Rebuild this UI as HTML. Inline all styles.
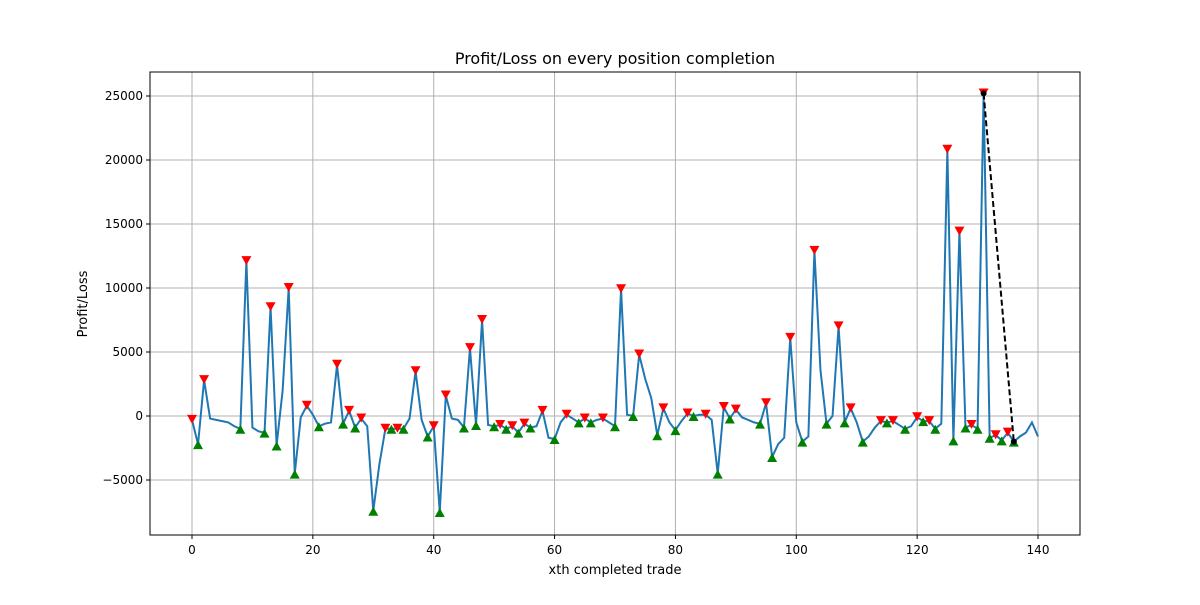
<!DOCTYPE html>
<html><head><meta charset="utf-8"><style>
body{margin:0;background:#fff;font-family:"Liberation Sans","DejaVu Sans",sans-serif}
svg text{font-family:"DejaVu Sans","Liberation Sans",sans-serif;fill:#000}
</style></head><body>
<svg id="chart" width="1200" height="600"></svg>
<script>
const values=[-300,-2200,2800,-200,-300,-400,-500,-800,-1000,12100,-900,-1200,-1300,8500,-2300,2000,10000,-4500,-100,800,
100,-800,-600,-500,4000,-600,400,-900,-200,-800,-7400,-3800,-1000,-1000,-1000,-1000,-200,3500,-300,-1600,
-800,-7500,1600,-200,-300,-900,5300,-700,7500,-700,-800,-700,-1000,-800,-1300,-600,-900,-800,400,-1700,
-1800,-500,100,-200,-500,-200,-500,-300,-200,-500,-800,9900,100,0,4800,2900,1400,-1500,600,-500,
-1100,-400,200,0,100,100,-300,-4500,700,-200,500,-100,-300,-500,-600,1000,-3200,-2200,-1700,6100,
-500,-2000,-1600,12900,3600,-600,0,7000,-500,600,-500,-2000,-1600,-900,-400,-500,-400,-700,-1000,-800,
-100,-400,-400,-1000,-600,20800,-1900,14400,-900,-700,-1000,25200,-1700,-1500,-1900,-1300,-2000,-1600,-1300,-500,-1600];
const sellIdx=[0,2,9,13,16,19,24,26,28,32,34,37,40,42,46,48,51,53,55,58,62,65,68,71,74,78,82,85,88,90,95,99,103,107,109,114,116,120,122,125,127,129,131,133,135];
const buyIdx=[1,8,12,14,17,21,25,27,30,33,35,39,41,45,47,50,52,54,56,60,64,66,70,73,77,80,83,87,89,94,96,101,105,108,111,115,118,121,123,126,128,130,132,134,136];
const drawdown=[131,136];
const xTicks=[0,20,40,60,80,100,120,140];
const yTicks=[-5000,0,5000,10000,15000,20000,25000];
const L=150,R=1080,T=72,B=535;
const X=v=>192+v*(1038-192)/140;
const Y=v=>416-v*12.8/1000;
const svg=document.getElementById('chart');
const NS='http://www.w3.org/2000/svg';
function mk(t,a,p){const e=document.createElementNS(NS,t);for(const k in a)e.setAttribute(k,a[k]);(p||svg).appendChild(e);return e;}
let e;
xTicks.forEach(t=>{
 e=mk('line',{x1:X(t),x2:X(t),y1:T,y2:B,stroke:'#b0b0b0','stroke-width':1});
 
 
 mk('line',{x1:X(t),x2:X(t),y1:B,y2:B+4,stroke:'#000'});
 e=mk('text',{x:X(t),y:B+19,'text-anchor':'middle','font-size':12});e.textContent=t;
 
 
});
yTicks.forEach(t=>{
 e=mk('line',{x1:L,x2:R,y1:Y(t),y2:Y(t),stroke:'#b0b0b0','stroke-width':1});
 
 
 mk('line',{x1:L-4,x2:L,y1:Y(t),y2:Y(t),stroke:'#000'});
 e=mk('text',{x:L-7,y:Y(t)+4,'text-anchor':'end','font-size':12});e.textContent=(t<0?'\u2212'+(-t):t);
 
 
});
e=mk('polyline',{points:values.map((v,i)=>X(i)+','+Y(v)).join(' '),fill:'none',stroke:'#1f77b4','stroke-width':2});


sellIdx.forEach(i=>{const x=X(i),y=Y(values[i]);
 e=mk('polygon',{points:`${x-5},${y-5} ${x+5},${y-5} ${x},${y+4}`,fill:'red'});
 
 });
buyIdx.forEach(i=>{const x=X(i),y=Y(values[i]);
 e=mk('polygon',{points:`${x-5},${y+5} ${x+5},${y+5} ${x},${y-4}`,fill:'green'});
 
 });
e=mk('line',{x1:X(drawdown[0]),y1:Y(values[drawdown[0]]),x2:X(drawdown[1]),y2:Y(values[drawdown[1]]),stroke:'#000','stroke-width':2,'stroke-dasharray':'6,3'});


drawdown.forEach(i=>{e=mk('circle',{cx:X(i),cy:Y(values[i]),r:3,fill:'#000'});
 
 });
e=mk('rect',{x:L,y:T,width:R-L,height:B-T,fill:'none',stroke:'#000','stroke-width':1});


e=mk('text',{x:615,y:64,'text-anchor':'middle','font-size':16});e.textContent='Profit/Loss on every position completion';


e=mk('text',{x:615,y:574,'text-anchor':'middle','font-size':13});e.textContent='xth completed trade';


e=mk('text',{x:0,y:0,'text-anchor':'middle','font-size':13,transform:'translate(87,304) rotate(-90)'});e.textContent='Profit/Loss';


</script>
</body></html>
